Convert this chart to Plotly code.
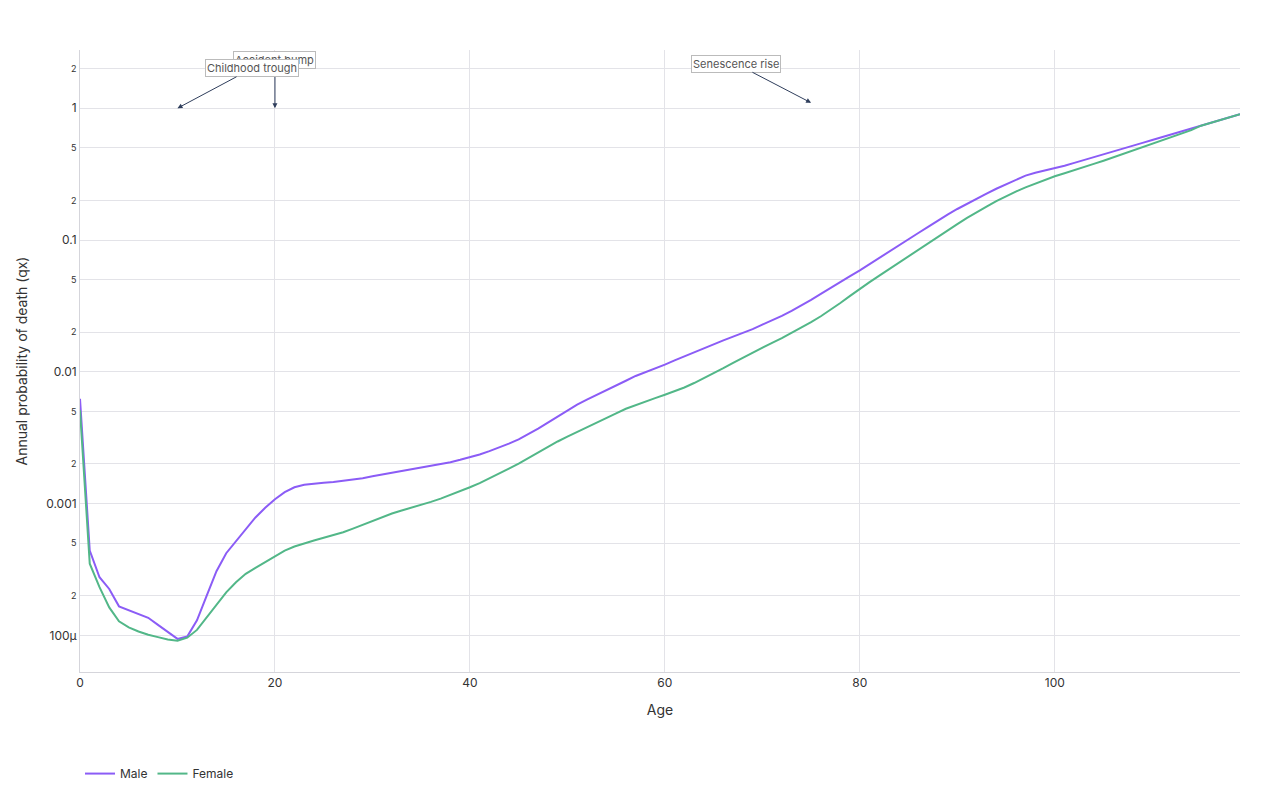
import math
import plotly.graph_objects as go

ages = list(range(0, 120))

male_qx = [
    6.25e-3, 4.4e-4, 2.76e-4, 2.25e-4, 1.66e-4, 1.56e-4, 1.46e-4, 1.36e-4, 1.2e-4, 1.06e-4,
    9.4e-5, 9.8e-5, 1.3e-4, 2.0e-4, 3.07e-4, 4.2e-4, 5.2e-4, 6.45e-4, 7.85e-4, 9.3e-4,
    1.08e-3, 1.22e-3, 1.33e-3, 1.39e-3, 1.42e-3, 1.44e-3, 1.46e-3, 1.49e-3, 1.52e-3, 1.56e-3,
    1.61e-3, 1.66e-3, 1.71e-3, 1.76e-3, 1.81e-3, 1.86e-3, 1.92e-3, 1.98e-3, 2.06e-3, 2.15e-3,
    2.24e-3, 2.36e-3, 2.50e-3, 2.66e-3, 2.85e-3, 3.07e-3, 3.35e-3, 3.70e-3, 4.12e-3, 4.59e-3,
    5.1e-3, 5.63e-3, 6.14e-3, 6.65e-3, 7.22e-3, 7.86e-3, 8.55e-3, 9.3e-3, 9.9e-3, 1.06e-2,
    1.135e-2, 1.22e-2, 1.31e-2, 1.41e-2, 1.52e-2, 1.62e-2, 1.73e-2, 1.85e-2, 1.97e-2, 2.11e-2,
    2.28e-2, 2.45e-2, 2.66e-2, 2.90e-2, 3.18e-2, 3.52e-2, 3.90e-2, 4.35e-2, 4.82e-2, 5.33e-2,
    5.89e-2, 6.55e-2, 7.29e-2, 8.11e-2, 9.02e-2, 0.101, 0.113, 0.126, 0.141, 0.156,
    0.172, 0.189, 0.207, 0.225, 0.245, 0.265, 0.288, 0.308, 0.324, 0.337,
    0.348, 0.366, 0.385, 0.404, 0.425, 0.447, 0.470, 0.494, 0.520, 0.546,
    0.574, 0.604, 0.634, 0.667, 0.701, 0.737, 0.774, 0.814, 0.857, 0.90,
]

female_qx = [
    5.1e-3, 3.5e-4, 2.32e-4, 1.63e-4, 1.28e-4, 1.15e-4, 1.07e-4, 1.01e-4, 9.7e-5, 9.3e-5,
    9.1e-5, 9.6e-5, 1.1e-4, 1.36e-4, 1.71e-4, 2.12e-4, 2.53e-4, 2.93e-4, 3.25e-4, 3.59e-4,
    3.98e-4, 4.4e-4, 4.72e-4, 5.0e-4, 5.25e-4, 5.5e-4, 5.77e-4, 6.06e-4, 6.45e-4, 6.9e-4,
    7.35e-4, 7.88e-4, 8.4e-4, 8.86e-4, 9.3e-4, 9.8e-4, 1.03e-3, 1.09e-3, 1.16e-3, 1.24e-3,
    1.33e-3, 1.43e-3, 1.55e-3, 1.69e-3, 1.84e-3, 2.01e-3, 2.22e-3, 2.44e-3, 2.70e-3, 2.96e-3,
    3.22e-3, 3.50e-3, 3.82e-3, 4.14e-3, 4.48e-3, 4.84e-3, 5.24e-3, 5.60e-3, 5.94e-3, 6.31e-3,
    6.70e-3, 7.11e-3, 7.60e-3, 8.22e-3, 8.93e-3, 9.75e-3, 1.067e-2, 1.17e-2, 1.28e-2, 1.40e-2,
    1.52e-2, 1.66e-2, 1.80e-2, 1.97e-2, 2.16e-2, 2.38e-2, 2.64e-2, 2.95e-2, 3.33e-2, 3.77e-2,
    4.27e-2, 4.79e-2, 5.37e-2, 6.01e-2, 6.73e-2, 7.57e-2, 8.49e-2, 9.55e-2, 0.107, 0.118,
    0.132, 0.147, 0.163, 0.179, 0.197, 0.215, 0.233, 0.251, 0.268, 0.286,
    0.305, 0.321, 0.338, 0.357, 0.378, 0.400, 0.424, 0.449, 0.476, 0.505,
    0.536, 0.569, 0.604, 0.641, 0.682, 0.737, 0.774, 0.814, 0.857, 0.90,
]

annot_text = ["Childhood trough", "Accident bump", "Senescence rise"]
annot_x = [10, 20, 75]
annot_y = [1.0, 1.0, 1.1]
annot_ax = [75, 0, -75]
annot_ay = [-40, -48, -39]

fig = go.Figure()
fig.add_trace(go.Scatter(x=ages, y=male_qx, mode="lines", name="Male",
                         line=dict(color="#8B5CF6", width=2)))
fig.add_trace(go.Scatter(x=ages, y=female_qx, mode="lines", name="Female",
                         line=dict(color="#52B788", width=2)))

order = [1, 0, 2]
for i in order:
    fig.add_annotation(x=annot_x[i], y=math.log10(annot_y[i]),
                       text=annot_text[i], showarrow=True,
                       ax=annot_ax[i], ay=annot_ay[i], axref="pixel", ayref="pixel",
                       arrowhead=2, arrowsize=1, arrowwidth=1, arrowcolor="#2F3E5C",
                       font=dict(size=11, color="#555555"),
                       bgcolor="white", bordercolor="#BBBBBB", borderwidth=1, borderpad=1)

fig.update_layout(
    width=1280, height=800,
    margin=dict(l=80, r=40, t=50, b=126),
    paper_bgcolor="white", plot_bgcolor="white",
    font=dict(family="Inter, sans-serif", size=12, color="#333333"),
    showlegend=True,
    legend=dict(orientation="h", x=0, xanchor="left", y=-0.14, yanchor="top",
                font=dict(size=12, color="#333333")),
    xaxis=dict(title=dict(text="Age", font=dict(size=14)), range=[0, 119],
               showgrid=True, gridcolor="#E3E3E8", zeroline=False,
               showline=True, linecolor="#D5D5DB", linewidth=1,
               tickfont=dict(size=12), ticks=""),
    yaxis=dict(title=dict(text="Annual probability of death (qx)", font=dict(size=14)),
               type="log", range=[-4.278, 0.442],
               showgrid=True, gridcolor="#E3E3E8", zeroline=False,
               showline=True, linecolor="#D5D5DB", linewidth=1,
               tickfont=dict(size=12), ticks=""),
)

fig.write_html("out.html")
